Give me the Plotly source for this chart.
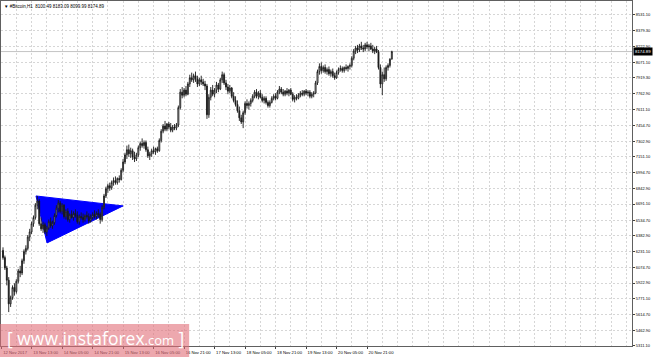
import plotly.graph_objects as go

# ---------------- data ----------------
opens = [6240,6170,6070,5950,5720,5780,5880,5840,5940,6040,6020,6140,6230,6260,6370,6420,6500,6560,6680,6720,
         6500,6450,6490,6420,6460,6520,6480,6510,6580,6650,6700,6620,6680,6570,6620,6540,6590,6560,6600,6580,
         6520,6570,6560,6540,6580,6570,6530,6560,6590,6570,6600,6590,6540,6660,6770,6840,6870,6850,6900,6920,
         6900,6940,6930,7020,7100,7170,7220,7180,7210,7150,7130,7170,7240,7280,7260,7290,7220,7160,7180,7210,
         7200,7230,7210,7310,7400,7450,7420,7470,7440,7410,7440,7430,7460,7630,7780,7750,7800,7760,7860,7920,
         7900,7940,7910,7860,7900,7880,7860,7840,7560,7730,7800,7760,7800,7850,7810,7900,7950,7870,7830,7790,
         7820,7740,7700,7660,7600,7530,7490,7580,7670,7650,7670,7700,7740,7780,7740,7770,7730,7700,7720,7680,
         7650,7680,7720,7740,7720,7780,7810,7780,7760,7790,7770,7800,7760,7710,7730,7720,7750,7770,7760,7790,
         7770,7780,7740,7760,7770,7870,7980,8030,7990,8020,7980,8000,7960,7980,7940,7920,7970,8000,8010,7990,
         8020,8010,8030,8040,8110,8180,8210,8190,8230,8210,8200,8240,8220,8230,8200,8180,8200,8170,8020,7860,
         7950,7910,8020,8040,8100.49]
highs = [6270,6190,6090,5980,5800,5900,5920,5960,6060,6090,6160,6250,6290,6390,6450,6520,6580,6700,6770,6740,
         6560,6520,6510,6480,6540,6560,6530,6600,6680,6730,6720,6700,6690,6640,6650,6600,6630,6620,6640,6620,
         6590,6610,6600,6590,6620,6600,6590,6610,6630,6620,6640,6610,6680,6790,6860,6890,6900,6920,6950,6960,
         6950,6970,7040,7130,7190,7260,7270,7240,7230,7200,7190,7260,7300,7330,7310,7310,7250,7200,7230,7250,
         7240,7250,7330,7420,7470,7500,7480,7490,7480,7460,7470,7480,7650,7810,7830,7820,7840,7880,7950,7970,
         7960,7980,7940,7920,7940,7910,7890,7860,7760,7830,7850,7820,7880,7870,7920,7980,7970,7900,7860,7850,
         7830,7780,7740,7700,7640,7560,7600,7690,7710,7690,7720,7760,7800,7810,7790,7800,7760,7740,7740,7700,
         7700,7740,7760,7770,7800,7840,7830,7810,7800,7820,7810,7820,7780,7750,7760,7770,7790,7800,7800,7810,
         7800,7800,7780,7790,7890,8000,8060,8070,8040,8050,8020,8030,8000,8010,7970,7990,8020,8040,8030,8030,
         8050,8040,8060,8130,8200,8230,8240,8250,8270,8240,8260,8270,8250,8260,8240,8220,8230,8190,8050,7980,
         8020,8040,8060,8110,8183.09]
lows = [6150,6050,5900,5640,5690,5760,5800,5820,5920,5980,6000,6110,6200,6240,6330,6400,6470,6540,6640,6480,
        6430,6410,6400,6380,6440,6460,6450,6490,6560,6610,6600,6590,6550,6540,6520,6510,6550,6530,6560,6500,
        6490,6540,6510,6520,6550,6500,6510,6540,6550,6540,6560,6500,6520,6640,6750,6800,6820,6830,6870,6880,
        6880,6900,6920,7000,7080,7130,7150,7140,7120,7100,7110,7150,7210,7240,7230,7200,7140,7120,7150,7180,
        7170,7190,7200,7290,7380,7400,7400,7420,7390,7390,7410,7410,7440,7610,7720,7730,7740,7750,7830,7880,
        7870,7880,7830,7840,7850,7840,7800,7520,7530,7700,7740,7730,7770,7780,7800,7870,7850,7800,7760,7770,
        7720,7680,7640,7580,7500,7470,7430,7560,7620,7610,7640,7680,7720,7720,7710,7720,7680,7670,7660,7630,
        7630,7670,7700,7700,7710,7760,7760,7740,7740,7750,7740,7750,7690,7680,7700,7710,7730,7740,7740,7750,
        7740,7720,7720,7730,7760,7850,7950,7960,7970,7960,7950,7940,7930,7920,7900,7910,7950,7980,7970,7970,
        7990,7980,8000,8020,8090,8150,8160,8170,8190,8170,8180,8200,8180,8190,8160,8150,8160,8000,7820,7750,
        7880,7890,7990,8020,8099.99]
closes = [6170,6070,5950,5720,5780,5880,5840,5940,6040,6020,6140,6230,6260,6370,6420,6500,6560,6680,6720,6500,
          6450,6490,6420,6460,6520,6480,6510,6580,6650,6700,6620,6680,6570,6620,6540,6590,6560,6600,6580,6520,
          6570,6560,6540,6580,6570,6530,6560,6590,6570,6600,6590,6540,6660,6770,6840,6870,6850,6900,6920,6900,
          6940,6930,7020,7100,7170,7220,7180,7210,7150,7130,7170,7240,7280,7260,7290,7220,7160,7180,7210,7200,
          7230,7210,7310,7400,7450,7420,7470,7440,7410,7440,7430,7460,7630,7780,7750,7800,7760,7860,7920,7900,
          7940,7910,7860,7900,7880,7860,7840,7560,7730,7800,7760,7800,7850,7810,7900,7950,7870,7830,7790,7820,
          7740,7700,7660,7600,7530,7490,7580,7670,7650,7670,7700,7740,7780,7740,7770,7730,7700,7720,7680,7650,
          7680,7720,7740,7720,7780,7810,7780,7760,7790,7770,7800,7760,7710,7730,7720,7750,7770,7760,7790,7770,
          7780,7740,7760,7770,7870,7980,8030,7990,8020,7980,8000,7960,7980,7940,7920,7970,8000,8010,7990,8020,
          8010,8030,8040,8110,8180,8210,8190,8230,8210,8200,8240,8220,8230,8200,8180,8200,8170,8020,7860,7950,
          7910,8020,8040,8100.49,8174.89]
bars = list(range(len(closes)))

y_ticks = [8531.10, 8379.30, 8222.90, 8071.10, 7919.30, 7762.90, 7611.10, 7454.70, 7302.90, 7151.10, 6994.70,
           6842.90, 6691.10, 6534.70, 6382.90, 6231.10, 6074.70, 5922.90, 5771.10, 5614.70, 5462.90, 5311.10]
x_tick_bars = [-1, 15, 31, 47, 63, 79, 95, 111, 127, 143, 159, 175, 191]
x_tick_labels = ["12 Nov 2017", "13 Nov 13:00", "14 Nov 05:00", "14 Nov 21:00", "15 Nov 13:00",
                 "16 Nov 05:00", "16 Nov 21:00", "17 Nov 13:00", "18 Nov 05:00", "18 Nov 21:00",
                 "19 Nov 13:00", "20 Nov 05:00", "20 Nov 21:00"]

# analyst's drawn triangle (bar index, price)
tri_bars = [17.3, 23.1, 63.0]
tri_prices = [6770, 6313, 6673]

last_price = 8174.89
header = "▼ #Bitcoin,H1  8100.49 8183.09 8099.99 8174.89"

# ---------------- figure ----------------
fig = go.Figure()
fig.add_trace(go.Candlestick(
    x=bars, open=opens, high=highs, low=lows, close=closes,
    increasing=dict(line=dict(color="#1a1a1a", width=0.9), fillcolor="#ffffff"),
    decreasing=dict(line=dict(color="#1a1a1a", width=0.9), fillcolor="#1a1a1a"),
    whiskerwidth=0, hoverinfo="skip", showlegend=False,
))

path = "M {},{} L {},{} L {},{} Z".format(tri_bars[0], tri_prices[0], tri_bars[1], tri_prices[1],
                                          tri_bars[2], tri_prices[2])
fig.add_shape(type="path", path=path, xref="x", yref="y", fillcolor="#0000ff",
              line=dict(color="#0000ff", width=1), layer="between")

# current price line + label
fig.add_shape(type="line", xref="paper", x0=0, x1=1, yref="y", y0=last_price, y1=last_price,
              line=dict(color="#c4c4c4", width=1), layer="between")
fig.add_annotation(xref="paper", x=1.0, xanchor="left", xshift=1, yref="y", y=last_price,
                   text="{:.2f}".format(last_price), showarrow=False, bgcolor="#000000",
                   font=dict(family="Liberation Sans", size=4.3, color="#ffffff"), borderpad=1)

# header
fig.add_annotation(xref="paper", x=0, xanchor="left", xshift=1, yref="paper", y=1, yanchor="top",
                   yshift=-1, text=header, showarrow=False,
                   font=dict(family="Liberation Sans", size=4.5, color="#000000"))

# watermark
fig.add_shape(type="rect", xref="paper", yref="paper", x0=-0.0016, x1=0.2982, y0=-0.033, y1=0.064,
              fillcolor="rgba(225,110,120,0.6)", line=dict(width=0), layer="above")
fig.add_annotation(xref="paper", yref="paper", x=0.149, y=0.022, xanchor="center", yanchor="middle",
                   text="[ www.instaforex<span style='font-size:13px'>.com</span> ]", showarrow=False,
                   font=dict(family="Open Sans", size=17.5, color="#ffffff"))

grid_col = "#d6d6d6"
fig.update_layout(
    width=665, height=357,
    margin=dict(l=1, r=33, t=1, b=11),
    paper_bgcolor="#ffffff", plot_bgcolor="#ffffff",
    xaxis=dict(
        range=[-1.05, 330.0], rangeslider=dict(visible=False),
        tickmode="array", tickvals=x_tick_bars, ticktext=x_tick_labels,
        ticks="outside", ticklen=2, tickcolor="#404040",
        ticklabelshift=14, ticklabelstandoff=0,
        tickfont=dict(family="Liberation Sans", size=4.2, color="#000000"),
        showgrid=True, gridcolor=grid_col, griddash="2px,2px", gridwidth=1,
        minor=dict(tickmode="linear", tick0=-1, dtick=8, showgrid=True, gridcolor=grid_col,
                   griddash="2px,2px", gridwidth=1, ticks=""),
        showline=True, linecolor="#606060", linewidth=1, mirror=True, zeroline=False,
        fixedrange=True,
    ),
    yaxis=dict(
        side="right", range=[5310, 8667],
        tickmode="array", tickvals=y_ticks, ticktext=["{:.2f}".format(v) for v in y_ticks],
        ticks="outside", ticklen=2, tickcolor="#404040",
        tickfont=dict(family="Liberation Sans", size=4, color="#000000"),
        showgrid=True, gridcolor=grid_col, griddash="2px,2px", gridwidth=1,
        showline=True, linecolor="#606060", linewidth=1, mirror=True, zeroline=False,
        fixedrange=True,
    ),
)

fig.write_html("out.html")
